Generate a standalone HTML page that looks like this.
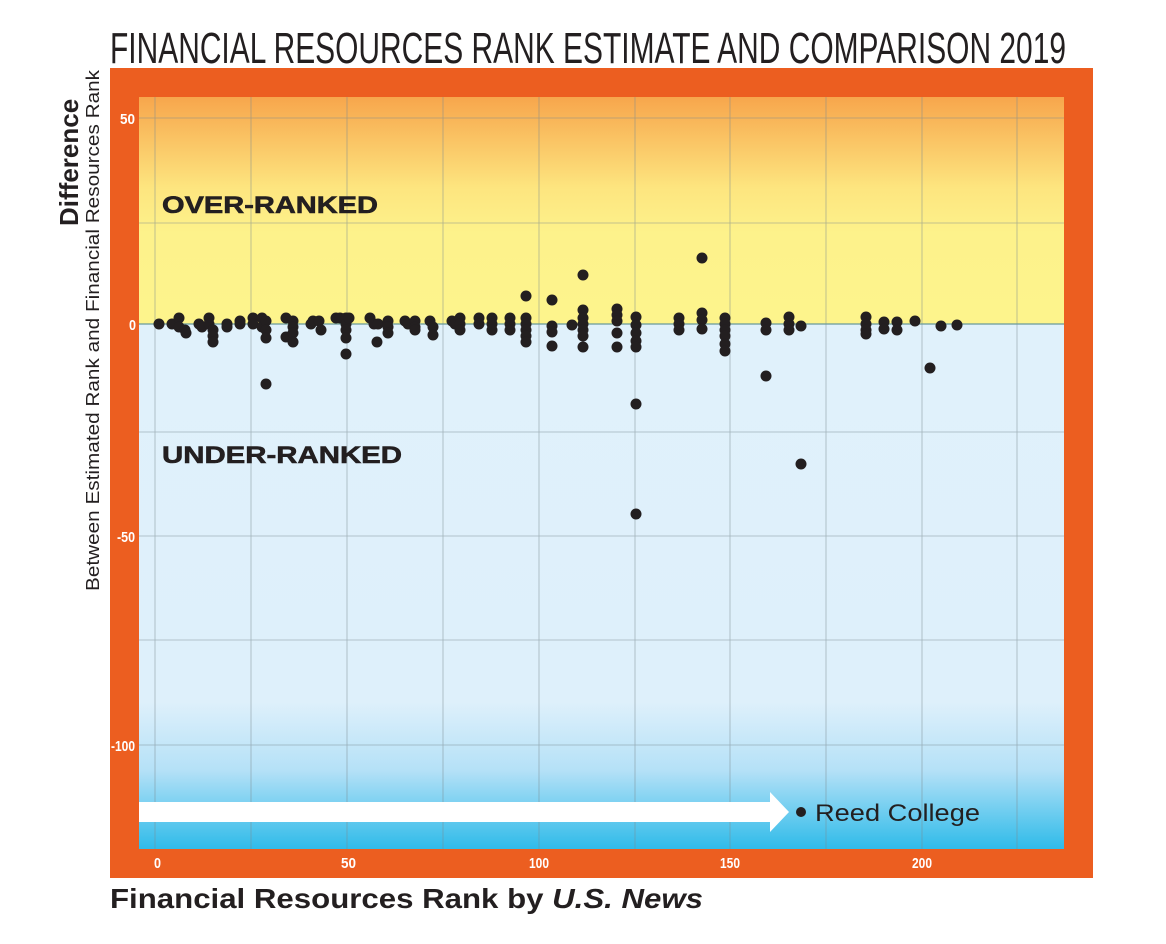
<!DOCTYPE html>
<html><head><meta charset="utf-8"><style>
html,body{margin:0;padding:0;background:#fff;}
svg{display:block;}
text{font-family:"Liberation Sans",sans-serif;}
</style></head><body>
<svg width="1166" height="944" viewBox="0 0 1166 944" xmlns="http://www.w3.org/2000/svg">
<defs>
<linearGradient id="top" x1="0" y1="0" x2="0" y2="1">
<stop offset="0" stop-color="#f7a64c"/><stop offset="0.4" stop-color="#fde57f"/><stop offset="0.6" stop-color="#fdf28b"/><stop offset="1" stop-color="#fdf48c"/>
</linearGradient>
<linearGradient id="bot" x1="0" y1="0" x2="0" y2="1">
<stop offset="0" stop-color="#e0f1fb"/><stop offset="0.72" stop-color="#def0fb"/><stop offset="0.85" stop-color="#b5e1f7"/><stop offset="1" stop-color="#2fbbe9"/>
</linearGradient>
</defs>
<text x="110" y="63" font-size="44" fill="#231f20" textLength="956" lengthAdjust="spacingAndGlyphs">FINANCIAL RESOURCES RANK ESTIMATE AND COMPARISON 2019</text>
<rect x="110" y="68" width="983" height="810" fill="#ec5e20"/>
<rect x="139" y="97" width="925" height="227" fill="url(#top)"/>
<rect x="139" y="324" width="925" height="525" fill="url(#bot)"/>
<g stroke="#7a8a90" stroke-width="0.8" opacity="0.6">
<line x1="155" y1="97" x2="155" y2="849"/><line x1="251" y1="97" x2="251" y2="849"/><line x1="347" y1="97" x2="347" y2="849"/><line x1="443" y1="97" x2="443" y2="849"/><line x1="539" y1="97" x2="539" y2="849"/><line x1="635" y1="97" x2="635" y2="849"/><line x1="730" y1="97" x2="730" y2="849"/><line x1="826" y1="97" x2="826" y2="849"/><line x1="922" y1="97" x2="922" y2="849"/><line x1="1017" y1="97" x2="1017" y2="849"/>
<line x1="139" y1="118" x2="1064" y2="118"/><line x1="139" y1="223" x2="1064" y2="223"/><line x1="139" y1="432" x2="1064" y2="432"/><line x1="139" y1="536" x2="1064" y2="536"/><line x1="139" y1="640" x2="1064" y2="640"/><line x1="139" y1="745" x2="1064" y2="745"/>
</g>
<line x1="139" y1="324" x2="1064" y2="324" stroke="#6a9a9a" stroke-width="1.2"/>
<g fill="#fff" font-weight="bold" font-size="15">
<text x="120" y="124" textLength="15" lengthAdjust="spacingAndGlyphs">50</text>
<text x="129" y="330" textLength="7" lengthAdjust="spacingAndGlyphs">0</text>
<text x="117" y="542" textLength="18" lengthAdjust="spacingAndGlyphs">-50</text>
<text x="111" y="751" textLength="24" lengthAdjust="spacingAndGlyphs">-100</text>
<text x="154" y="868" textLength="7" lengthAdjust="spacingAndGlyphs">0</text>
<text x="341" y="868" textLength="15" lengthAdjust="spacingAndGlyphs">50</text>
<text x="529" y="868" textLength="20" lengthAdjust="spacingAndGlyphs">100</text>
<text x="720" y="868" textLength="20" lengthAdjust="spacingAndGlyphs">150</text>
<text x="912" y="868" textLength="20" lengthAdjust="spacingAndGlyphs">200</text>
</g>
<text x="162" y="213" font-size="24" font-weight="900" fill="#231f20" textLength="216" lengthAdjust="spacingAndGlyphs" stroke="#231f20" stroke-width="0.6">OVER-RANKED</text>
<text x="162" y="463" font-size="24" font-weight="900" fill="#231f20" textLength="240" lengthAdjust="spacingAndGlyphs" stroke="#231f20" stroke-width="0.6">UNDER-RANKED</text>
<polygon points="139,802 770,802 770,792 789,812 770,832 770,822 139,822" fill="#fff"/>
<circle cx="801" cy="812" r="5" fill="#231f20"/>
<text x="815" y="821" font-size="24" fill="#231f20" textLength="165" lengthAdjust="spacingAndGlyphs">Reed College</text>
<g fill="#231f20">
<circle cx="159" cy="324" r="5.5"/><circle cx="172" cy="324" r="5.5"/><circle cx="179" cy="318" r="5.5"/><circle cx="179" cy="327" r="5.5"/><circle cx="185" cy="330" r="5.5"/><circle cx="186" cy="333" r="5.5"/>
<circle cx="199" cy="324" r="5.5"/><circle cx="202" cy="327" r="5.5"/>
<circle cx="209" cy="318" r="5.5"/><circle cx="209" cy="324" r="5.5"/><circle cx="213" cy="330" r="5.5"/><circle cx="213" cy="336" r="5.5"/><circle cx="213" cy="342" r="5.5"/>
<circle cx="227" cy="324" r="5.5"/><circle cx="227" cy="327" r="5.5"/><circle cx="240" cy="324" r="5.5"/><circle cx="240" cy="321" r="5.5"/>
<circle cx="253" cy="318" r="5.5"/><circle cx="253" cy="324" r="5.5"/>
<circle cx="262" cy="318" r="5.5"/><circle cx="262" cy="327" r="5.5"/><circle cx="266" cy="321" r="5.5"/><circle cx="266" cy="330" r="5.5"/><circle cx="266" cy="338" r="5.5"/><circle cx="266" cy="384" r="5.5"/>
<circle cx="286" cy="318" r="5.5"/><circle cx="286" cy="337" r="5.5"/><circle cx="293" cy="321" r="5.5"/><circle cx="293" cy="327" r="5.5"/><circle cx="293" cy="333" r="5.5"/><circle cx="293" cy="342" r="5.5"/>
<circle cx="311" cy="324" r="5.5"/><circle cx="313" cy="321" r="5.5"/><circle cx="319" cy="321" r="5.5"/><circle cx="321" cy="330" r="5.5"/>
<circle cx="336" cy="318" r="5.5"/><circle cx="340" cy="318" r="5.5"/><circle cx="346" cy="318" r="5.5"/><circle cx="346" cy="324" r="5.5"/><circle cx="346" cy="330" r="5.5"/><circle cx="346" cy="338" r="5.5"/><circle cx="346" cy="354" r="5.5"/><circle cx="349" cy="318" r="5.5"/>
<circle cx="370" cy="318" r="5.5"/><circle cx="374" cy="324" r="5.5"/><circle cx="377" cy="342" r="5.5"/><circle cx="378" cy="324" r="5.5"/>
<circle cx="388" cy="321" r="5.5"/><circle cx="388" cy="327" r="5.5"/><circle cx="388" cy="333" r="5.5"/>
<circle cx="405" cy="321" r="5.5"/><circle cx="408" cy="324" r="5.5"/><circle cx="415" cy="321" r="5.5"/><circle cx="415" cy="327" r="5.5"/><circle cx="415" cy="330" r="5.5"/>
<circle cx="430" cy="321" r="5.5"/><circle cx="433" cy="327" r="5.5"/><circle cx="433" cy="335" r="5.5"/>
<circle cx="452" cy="321" r="5.5"/><circle cx="455" cy="324" r="5.5"/><circle cx="460" cy="318" r="5.5"/><circle cx="460" cy="324" r="5.5"/><circle cx="460" cy="330" r="5.5"/>
<circle cx="479" cy="318" r="5.5"/><circle cx="479" cy="324" r="5.5"/><circle cx="492" cy="318" r="5.5"/><circle cx="492" cy="324" r="5.5"/><circle cx="492" cy="330" r="5.5"/>
<circle cx="510" cy="318" r="5.5"/><circle cx="510" cy="324" r="5.5"/><circle cx="510" cy="330" r="5.5"/>
<circle cx="526" cy="296" r="5.5"/><circle cx="526" cy="318" r="5.5"/><circle cx="526" cy="324" r="5.5"/><circle cx="526" cy="330" r="5.5"/><circle cx="526" cy="336" r="5.5"/><circle cx="526" cy="342" r="5.5"/>
<circle cx="552" cy="300" r="5.5"/><circle cx="552" cy="326" r="5.5"/><circle cx="552" cy="332" r="5.5"/><circle cx="552" cy="346" r="5.5"/>
<circle cx="572" cy="325" r="5.5"/>
<circle cx="583" cy="275" r="5.5"/><circle cx="583" cy="310" r="5.5"/><circle cx="583" cy="318" r="5.5"/><circle cx="583" cy="324" r="5.5"/><circle cx="583" cy="330" r="5.5"/><circle cx="583" cy="336" r="5.5"/><circle cx="583" cy="347" r="5.5"/>
<circle cx="617" cy="309" r="5.5"/><circle cx="617" cy="315" r="5.5"/><circle cx="617" cy="321" r="5.5"/><circle cx="617" cy="333" r="5.5"/><circle cx="617" cy="347" r="5.5"/>
<circle cx="636" cy="317" r="5.5"/><circle cx="636" cy="325" r="5.5"/><circle cx="636" cy="333" r="5.5"/><circle cx="636" cy="341" r="5.5"/><circle cx="636" cy="347" r="5.5"/><circle cx="636" cy="404" r="5.5"/><circle cx="636" cy="514" r="5.5"/>
<circle cx="679" cy="318" r="5.5"/><circle cx="679" cy="324" r="5.5"/><circle cx="679" cy="330" r="5.5"/>
<circle cx="702" cy="258" r="5.5"/><circle cx="702" cy="313" r="5.5"/><circle cx="702" cy="320" r="5.5"/><circle cx="702" cy="329" r="5.5"/>
<circle cx="725" cy="318" r="5.5"/><circle cx="725" cy="324" r="5.5"/><circle cx="725" cy="330" r="5.5"/><circle cx="725" cy="336" r="5.5"/><circle cx="725" cy="344" r="5.5"/><circle cx="725" cy="351" r="5.5"/>
<circle cx="766" cy="323" r="5.5"/><circle cx="766" cy="330" r="5.5"/><circle cx="766" cy="376" r="5.5"/>
<circle cx="789" cy="317" r="5.5"/><circle cx="789" cy="324" r="5.5"/><circle cx="789" cy="330" r="5.5"/><circle cx="801" cy="326" r="5.5"/><circle cx="801" cy="464" r="5.5"/>
<circle cx="866" cy="317" r="5.5"/><circle cx="866" cy="324" r="5.5"/><circle cx="866" cy="330" r="5.5"/><circle cx="866" cy="334" r="5.5"/>
<circle cx="884" cy="322" r="5.5"/><circle cx="884" cy="329" r="5.5"/><circle cx="897" cy="322" r="5.5"/><circle cx="897" cy="330" r="5.5"/>
<circle cx="915" cy="321" r="5.5"/><circle cx="930" cy="368" r="5.5"/><circle cx="941" cy="326" r="5.5"/><circle cx="957" cy="325" r="5.5"/>
</g>
<text transform="translate(78,226) rotate(-90)" font-size="26" font-weight="bold" fill="#231f20">Difference</text>
<text transform="translate(99,591) rotate(-90)" font-size="18" fill="#231f20" textLength="521" lengthAdjust="spacingAndGlyphs">Between Estimated Rank and Financial Resources Rank</text>
<text x="110" y="908" font-size="28" font-weight="bold" fill="#231f20" textLength="593" lengthAdjust="spacingAndGlyphs">Financial Resources Rank by <tspan font-style="italic">U.S. News</tspan></text>
</svg>
</body></html>
